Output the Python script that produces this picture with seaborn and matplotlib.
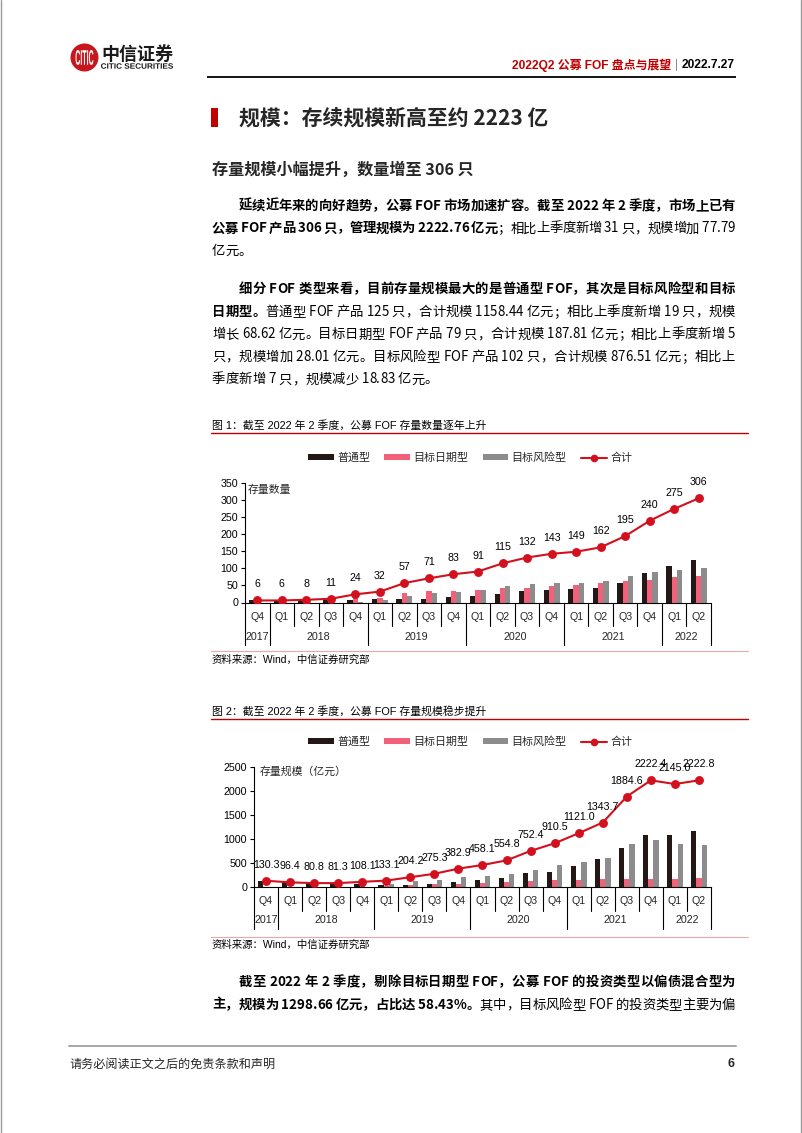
import matplotlib
matplotlib.use('Agg')
import numpy as np
import pandas as pd
import matplotlib.pyplot as plt
import matplotlib.transforms as mtrans
import seaborn as sns
from matplotlib.font_manager import FontProperties, findfont, get_font
from matplotlib.patches import Rectangle, Circle, Patch, PathPatch
from matplotlib.lines import Line2D
from matplotlib.textpath import TextPath
from matplotlib.transforms import Affine2D
try:
    from matplotlib.ft2font import LoadFlags
    NOHINT = LoadFlags.NO_HINTING
except Exception:
    from matplotlib.ft2font import LOAD_NO_HINTING as NOHINT

# ---------------- data ----------------
periods = ['2017Q4', '2018Q1', '2018Q2', '2018Q3', '2018Q4', '2019Q1', '2019Q2', '2019Q3', '2019Q4',
           '2020Q1', '2020Q2', '2020Q3', '2020Q4', '2021Q1', '2021Q2', '2021Q3', '2021Q4', '2022Q1', '2022Q2']
quarters = ['Q4', 'Q1', 'Q2', 'Q3', 'Q4', 'Q1', 'Q2', 'Q3', 'Q4', 'Q1', 'Q2', 'Q3', 'Q4',
            'Q1', 'Q2', 'Q3', 'Q4', 'Q1', 'Q2']
years = ['2017', '2018', '2019', '2020', '2021', '2022']
year_spans = [(0, 0), (1, 4), (5, 8), (9, 12), (13, 16), (17, 18)]
types = ['普通型', '目标日期型', '目标风险型']
total_name = '合计'

count_general = [6, 6, 8, 9, 7, 10, 11, 11, 17, 19, 26, 35, 38, 41, 44, 56, 86, 106, 125]
count_date = [0, 0, 0, 2, 15, 14, 27, 33, 35, 36, 42, 44, 49, 50, 56, 62, 65, 74, 79]
count_risk = [0, 0, 0, 0, 2, 8, 19, 27, 31, 36, 47, 53, 56, 58, 62, 77, 89, 95, 102]
count_total = [6, 6, 8, 11, 24, 32, 57, 71, 83, 91, 115, 132, 143, 149, 162, 195, 240, 275, 306]

scale_general = [130.3, 96.4, 80.8, 70.3, 60.1, 40.1, 40.2, 60.3, 110.9, 150.1, 190.8, 283.4, 310.5,
                 440.0, 578.7, 815.6, 1075.4, 1089.8, 1158.4]
scale_date = [0, 0, 0, 11.0, 40.0, 30.0, 35.0, 60.0, 70.0, 80.0, 99.0, 120.0, 150.0,
              151.0, 165.0, 169.0, 165.0, 159.8, 187.8]
scale_risk = [0, 0, 0, 0, 8.0, 63.0, 129.0, 155.0, 202.0, 228.0, 265.0, 349.0, 450.0,
              530.0, 600.0, 900.0, 982.0, 895.3, 876.5]
scale_total = [130.3, 96.4, 80.8, 81.3, 108.1, 133.1, 204.2, 275.3, 382.9, 458.1, 554.8, 752.4, 910.5,
               1121.0, 1343.7, 1884.6, 2222.4, 2145.0, 2222.8]

count_yticks = [0, 50, 100, 150, 200, 250, 300, 350]
scale_yticks = [0, 500, 1000, 1500, 2000, 2500]

# ---------------- text ----------------
header_title = '2022Q2 公募 FOF 盘点与展望'
header_date = '2022.7.27'
section_title = '规模：存续规模新高至约 2223 亿'
sub_title = '存量规模小幅提升，数量增至 306 只'
para1 = [
    ([('延续近年来的向好趋势，公募 FOF 市场加速扩容。截至 2022 年 2 季度，市场上已有', True)], True, True),
    ([('公募 FOF 产品 306 只，管理规模为 2222.76 亿元', True), ('；相比上季度新增 31 只，规模增加 77.79', False)], False, True),
    ([('亿元。', False)], False, False),
]
para2 = [
    ([('细分 FOF 类型来看，目前存量规模最大的是普通型 FOF，其次是目标风险型和目标', True)], True, True),
    ([('日期型。', True), ('普通型 FOF 产品 125 只，合计规模 1158.44 亿元；相比上季度新增 19 只，规模', False)], False, True),
    ([('增长 68.62 亿元。目标日期型 FOF 产品 79 只，合计规模 187.81 亿元；相比上季度新增 5', False)], False, True),
    ([('只，规模增加 28.01 亿元。目标风险型 FOF 产品 102 只，合计规模 876.51 亿元；相比上', False)], False, True),
    ([('季度新增 7 只，规模减少 18.83 亿元。', False)], False, False),
]
para3 = [
    ([('截至 2022 年 2 季度，剔除目标日期型 FOF，公募 FOF 的投资类型以偏债混合型为', True)], True, True),
    ([('主，规模为 1298.66 亿元，占比达 58.43%。', True), ('其中，目标风险型 FOF 的投资类型主要为偏', False)], False, True),
]
cap1 = '图 1：截至 2022 年 2 季度，公募 FOF 存量数量逐年上升'
cap2 = '图 2：截至 2022 年 2 季度，公募 FOF 存量规模稳步提升'
source = '资料来源：Wind，中信证券研究部'
ylab1 = '存量数量'
ylab2 = '存量规模（亿元）'
footer = '请务必阅读正文之后的免责条款和声明'
page_no = '6'

# ---------------- style ----------------
sns.set_theme(style='white')
CJK = 'Noto Sans CJK SC'
CHART_FAM = ['Liberation Sans', CJK, 'DejaVu Sans']
BODY_FAM = [CJK, 'DejaVu Sans']
plt.rcParams['font.family'] = CHART_FAM

RED = '#D2101E'
DARKRED = '#C00000'
BAR_COLORS = ['#231815', '#F2607A', '#8C8C8C']

W, H = 802, 1133
fig = plt.figure(figsize=(W / 100, H / 100), dpi=100)
fig.patch.set_facecolor('white')
bg = fig.add_axes([0, 0, 1, 1])
bg.set_xlim(0, W)
bg.set_ylim(H, 0)
bg.axis('off')

# ---------------- helpers ----------------
_paths = {}


def font_path(bold):
    if bold not in _paths:
        _paths[bold] = findfont(FontProperties(family=CJK, weight='bold' if bold else 'normal'))
    return _paths[bold]


def advance(ch, bold, size_pt):
    f = get_font(font_path(bold))
    f.set_size(size_pt, 100)
    g = f.load_char(ord(ch), flags=NOHINT)
    return g.linearHoriAdvance / 65536.0


def is_ascii_word(ch):
    return ord(ch) < 128 and ch != ' '


def draw_line(segs, x0, x1, yc, size_pt, justify=True, color='#000000'):
    size_px = size_pt * 100 / 72
    items = []
    for text, bold in segs:
        for ch in text:
            items.append((ch, bold, advance(ch, bold, size_pt)))
    natural = sum(it[2] for it in items)
    n = len(items)
    breaks = [not (is_ascii_word(items[i][0]) and is_ascii_word(items[i + 1][0])) for i in range(n - 1)]
    nb = sum(breaks)
    gap = (x1 - x0 - natural) / nb if (justify and nb > 0) else 0.0
    x = x0
    base = yc + 0.37 * size_px
    for i, (ch, bold, adv) in enumerate(items):
        if ch != ' ':
            bg.text(x, base, ch, fontsize=size_pt, fontweight='bold' if bold else 'normal',
                    family=BODY_FAM, ha='left', va='baseline', color=color)
        x += adv
        if i < n - 1 and breaks[i]:
            x += gap


def draw_para(lines, ys, size_pt=9.6, left=212, right=735):
    size_px = size_pt * 100 / 72
    for (segs, indent, just), y in zip(lines, ys):
        x0 = left + (2 * size_px if indent else 0)
        draw_line(segs, x0, right, y, size_pt, justify=just)


def path_text(s, x0, x1, yc, h, prop, color):
    tp = TextPath((0, 0), s, size=10, prop=prop)
    ext = tp.get_extents()
    sx = (x1 - x0) / ext.width
    sy = h / ext.height
    tr = Affine2D().translate(-ext.x0, -ext.y0).scale(sx, -sy).translate(x0, yc + h / 2)
    bg.add_patch(PathPatch(tr.transform_path(tp), facecolor=color, edgecolor='none', lw=0))


# ---------------- page frame & header ----------------
bg.plot([0.5, 0.5], [0, H], color='#9a9a9a', lw=1.0)
bg.plot([801.2, 801.2], [0, H], color='#9a9a9a', lw=1.0)

bg.add_patch(Circle((84.5, 57.5), 14, color='#C8161D', lw=0))
path_text('CITIC', 75.5, 93.5, 57.5, 15, FontProperties(family='Liberation Sans', weight='bold'), 'white')
bg.text(101, 54, '中信证券', fontsize=13, fontweight='bold', family=BODY_FAM, ha='left', va='center', color='#1a1a1a')
path_text('CITIC SECURITIES', 101, 173, 66, 5.5, FontProperties(family='Liberation Sans', weight='bold'), '#1a1a1a')

bg.text(735, 65, header_date, fontsize=8.6, fontweight='bold', ha='right', va='center', color='#000000')
bg.text(677, 65, '|', fontsize=8.6, ha='center', va='center', color='#8c8c8c')
bg.text(671, 65, header_title, fontsize=8.6, fontweight='bold', ha='right', va='center', color=DARKRED)
bg.plot([207, 736], [77, 77], color='#000000', lw=1.3, solid_capstyle='butt')

# ---------------- titles & paragraphs ----------------
bg.add_patch(Rectangle((211, 108), 7, 19, color=DARKRED, lw=0))
bg.text(239, 118, section_title, fontsize=15, fontweight='bold', family=BODY_FAM, ha='left', va='center')
bg.text(212, 170, sub_title, fontsize=11.6, fontweight='bold', family=BODY_FAM, ha='left', va='center')

draw_para(para1, [205, 227.5, 250])
draw_para(para2, [288, 311, 333.5, 356, 378.5])
draw_para(para3, [981, 1004])

# ---------------- charts ----------------
n = len(periods)
year_bounds = {-0.5, 0.5, 4.5, 8.5, 12.5, 16.5, 18.5}


def draw_chart(box, general, date, risk, total, ymax, yticks, fmt, legend_y,
               q_off, y_off, short_len, long_len):
    left, right, top, bottom = box
    ax = fig.add_axes([left / W, 1 - bottom / H, (right - left) / W, (bottom - top) / H])
    ax.patch.set_visible(False)
    df = pd.DataFrame({
        'period': periods * 3,
        'type': [types[0]] * n + [types[1]] * n + [types[2]] * n,
        'value': list(general) + list(date) + list(risk)})
    sns.barplot(data=df, x='period', y='value', hue='type', order=periods, hue_order=types,
                palette=BAR_COLORS, width=0.65, saturation=1, linewidth=0, errorbar=None,
                legend=False, ax=ax)
    sns.lineplot(x=np.arange(n), y=total, color=RED, linewidth=1.5, marker='o', markersize=6.4,
                 markeredgewidth=0, markerfacecolor=RED, legend=False, ax=ax, zorder=5)
    for i, v in enumerate(total):
        ax.annotate(fmt(v), (i, v), xytext=(0, 16), textcoords='offset pixels', ha='center',
                    va='center', fontsize=7.7, color='#000000', zorder=6, annotation_clip=False)
    ax.set_xticks([])
    ax.set_yticks(yticks)
    ax.set_yticklabels([str(t) for t in yticks])
    ax.set_xlim(-0.5, n - 0.5)
    ax.set_ylim(0, ymax)
    ax.set_xlabel('')
    ax.set_ylabel('')
    for s in ['top', 'right']:
        ax.spines[s].set_visible(False)
    for s in ['left', 'bottom']:
        ax.spines[s].set_visible(True)
        ax.spines[s].set_color('black')
        ax.spines[s].set_linewidth(0.8)
    ax.tick_params(axis='y', left=True, direction='out', length=3, width=0.8, color='black',
                   labelsize=7.7, pad=2, labelcolor='black')
    hpx = bottom - top
    trans = mtrans.blended_transform_factory(ax.transData, ax.transAxes)
    for b in np.arange(-0.5, n, 1.0):
        L = long_len if b in year_bounds else short_len
        ax.plot([b, b], [0, -L / hpx], transform=trans, clip_on=False, color='black', lw=0.8)
    for i, q in enumerate(quarters):
        ax.text(i, -q_off / hpx, q, transform=trans, ha='center', va='center', fontsize=7.7)
    for yr, (s, e) in zip(years, year_spans):
        ax.text((s + e) / 2, -y_off / hpx, yr, transform=trans, ha='center', va='center', fontsize=7.7)
    handles = [Patch(facecolor=c, edgecolor='none') for c in BAR_COLORS] + \
              [Line2D([0], [0], color=RED, lw=1.5, marker='o', markersize=5.5, markeredgewidth=0)]
    ax.legend(handles, types + [total_name], loc='center', bbox_to_anchor=(470 / W, 1 - legend_y / H),
              bbox_transform=fig.transFigure, ncol=4, frameon=False, fontsize=7.9,
              handlelength=2.35, handleheight=0.45, handletextpad=0.3, columnspacing=1.3,
              borderaxespad=0, borderpad=0)
    return ax


# chart 1
bg.text(212, 425, cap1, fontsize=7.8, ha='left', va='center', color='#000000')
bg.plot([211, 748], [433, 433], color=DARKRED, lw=1.0)
draw_chart((245, 711, 483.3, 602.5), count_general, count_date, count_risk, count_total, 350,
           count_yticks, lambda v: f'{v:.0f}', 458, 14.5, 34.5, 23.5, 42.5)
bg.text(248, 490, ylab1, fontsize=7.8, ha='left', va='center')
bg.plot([211, 748], [651, 651], color='#E8A8AE', lw=0.8)
bg.text(212, 660, source, fontsize=7.5, ha='left', va='center', color='#000000')

# chart 2
bg.text(212, 711, cap2, fontsize=7.8, ha='left', va='center', color='#000000')
bg.plot([211, 748], [719, 719], color=DARKRED, lw=1.0)
draw_chart((254, 711, 767, 887), scale_general, scale_date, scale_risk, scale_total, 2500,
           scale_yticks, lambda v: f'{v:.1f}', 742, 14, 33, 24, 42)
bg.text(260, 772, ylab2, fontsize=7.8, ha='left', va='center')
bg.plot([211, 748], [937, 937], color='#E8A8AE', lw=0.8)
bg.text(212, 945, source, fontsize=7.5, ha='left', va='center', color='#000000')

# ---------------- footer ----------------
bg.plot([69, 736], [1046, 1046], color='#A6A6A6', lw=1.4)
bg.text(69, 1064, footer, fontsize=8.7, family=BODY_FAM, ha='left', va='center')
bg.text(735, 1064, page_no, fontsize=9, fontweight='bold', ha='right', va='center')

fig.savefig('out.png', dpi=100)
